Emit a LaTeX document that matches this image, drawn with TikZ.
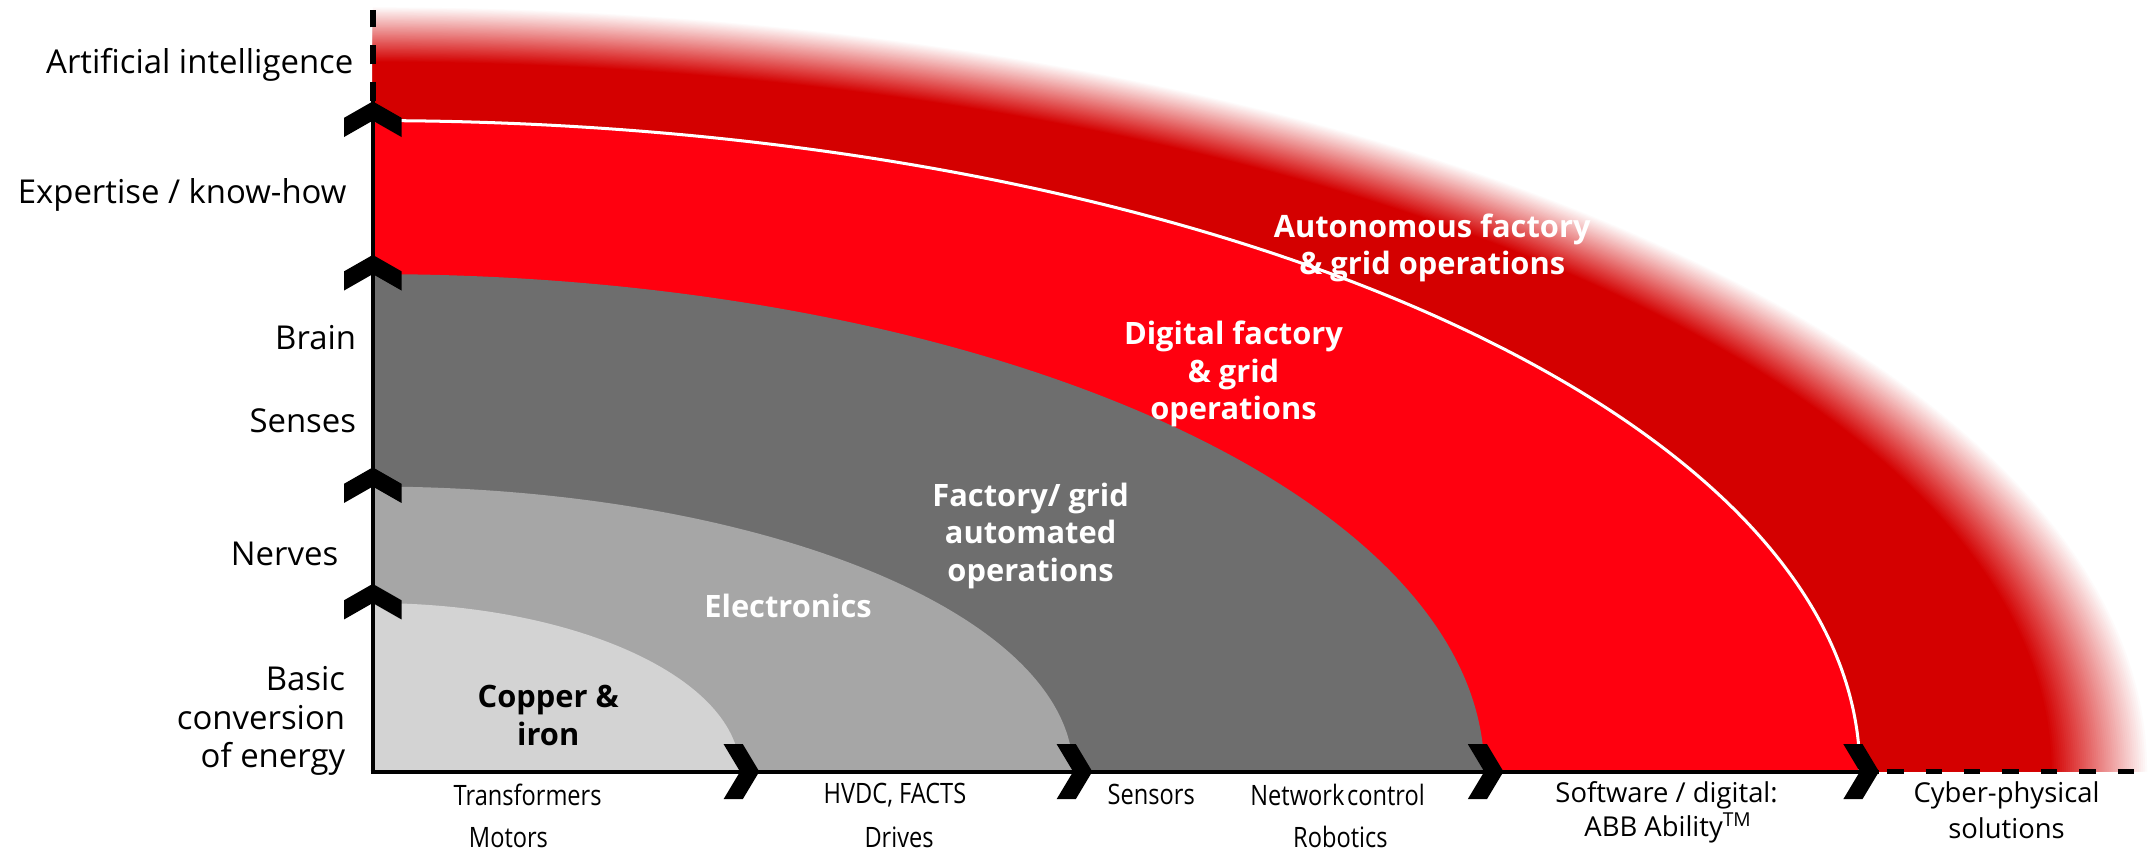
\documentclass[tikz,border=0pt]{standalone}
\usepackage{fontspec}
\setmainfont{Open Sans}
\newfontfamily\condfont[FakeStretch=0.84]{Open Sans}
\usetikzlibrary{calc}
\definecolor{lgray}{HTML}{D3D3D3}
\definecolor{mgray}{HTML}{A6A6A6}
\definecolor{dgray}{HTML}{6E6E6E}
\definecolor{bred}{HTML}{FF000F}
\definecolor{dred}{HTML}{D40000}
\begin{document}
\begin{tikzpicture}[x=1pt,y=1pt,
  ylab/.style={font=\fontsize{24}{28}\selectfont, inner sep=0pt, anchor=east, align=right},
  xlab/.style={font=\fontsize{20}{24}\selectfont, inner sep=0pt},
  xcond/.style={font=\condfont\fontsize{20.5}{24}\selectfont, inner sep=0pt},
  rlab/.style={font=\bfseries\fontsize{22.5}{27.5}\selectfont, inner sep=0pt, align=center, text=white},
  axisline/.style={line width=3pt, black},
  dashaxis/.style={line width=4pt, black, dash pattern=on 14pt off 13pt},
  sepline/.style={line width=2.2pt, white},
  ychev/.pic={\fill[black] (0,14) -- (21,2) -- (21,-12) -- (0,0) -- (-21,-12) -- (-21,2) -- cycle;},
  xchev/.pic={\fill[black] (14,0) -- (2,20) -- (-12,20) -- (0,0) -- (-12,-20) -- (2,-20) -- cycle;}
]
\useasboundingbox (0,0) rectangle (1568,621);
\coordinate (O) at (272,58);
% dark red region with soft outer edge
\foreach \k in {0,...,48}{
  \pgfmathsetmacro{\sx}{1.058-0.058*\k/48}
  \pgfmathsetmacro{\sy}{1.078-0.078*\k/48}
  \pgfmathsetmacro{\p}{100*\k/48}
  \fill[dred!\p!white] (O) -- ++(1225*\sx,0) arc[start angle=0,end angle=90,x radius=1225*\sx,y radius=518*\sy] -- cycle;
}
% nested regions
\fill[bred] (O) -- ++(1085,0) arc[start angle=0,end angle=90,x radius=1085,y radius=475] -- cycle;
\draw[sepline] ($(O)+(1085,0)$) arc[start angle=0,end angle=90,x radius=1085,y radius=475];
\fill[dgray] (O) -- ++(811,0) arc[start angle=0,end angle=90,x radius=811,y radius=363] -- cycle;
\fill[mgray] (O) -- ++(511,0) arc[start angle=0,end angle=90,x radius=511,y radius=208] -- cycle;
\fill[lgray] (O) -- ++(268,0) arc[start angle=0,end angle=90,x radius=268,y radius=123] -- cycle;
% axes
\coordinate (ytip) at (272,547);
\coordinate (ytop) at (272,614);
\coordinate (xtip) at (1371,58);
\coordinate (xdash) at (1377,58);
\coordinate (xend) at (1562,58);
\draw[axisline] (O) -- (ytip);
\draw[axisline] ([xshift=-1.5pt]O) -- (xtip);
\draw[dashaxis] (ytip) -- (ytop);
\draw[dashaxis, dash pattern=on 12pt off 16pt] (xdash) -- (xend);
% chevrons
\pic at (272,533) {ychev};
\pic at (272,421) {ychev};
\pic at (272,266) {ychev};
\pic at (272,181) {ychev};
\pic at (540,58) {xchev};
\pic at (783,58) {xchev};
\pic at (1083,58) {xchev};
\pic at (1357,58) {xchev};
% y labels
\node[ylab] (ai) at (258,574) {Artificial intelligence};
\node[ylab] (exp) at (253,479) {Expertise / know-how};
\node[ylab] (brain) at (260,375) {Brain};
\node[ylab] (senses) at (260,314) {Senses};
\node[ylab] (nerves) at (247,217) {Nerves};
\node[ylab] (basic) at (252,95) {Basic\\conversion\\of energy};
% x labels
\node[xcond] (transf) at (385,41) {Transformers};
\node[xcond] (motors) at (371,10) {Motors};
\node[xcond] (hvdc) at (653,41) {HVDC, FACTS};
\node[xcond] (drives) at (656,10) {Drives};
\node[xcond] (sensors) at (840,41) {Sensors};
\node[xcond] (netctl) at (976,41) {Network\hspace{2pt}control};
\node[xcond] (robot) at (978,10) {Robotics};
\node[xlab] (soft) at (1216,41) {Software / digital:};
\node[xlab] (ability) at (1217,17) {ABB Ability\textsuperscript{TM}};
\node[xlab] (cyber) at (1464,41) {Cyber-physical};
\node[xlab] (solut) at (1464,17) {solutions};
% region labels
\node[rlab, text=black] (copper) at (400,99) {Copper \&\\iron};
\node[rlab] (electr) at (575,179) {Electronics};
\node[rlab] (factory) at (752,230) {Factory/ grid\\automated\\operations};
\node[rlab] (digital) at (900,348) {Digital factory\\\& grid\\operations};
\node[rlab] (auton) at (1045,440) {Autonomous factory\\\& grid operations};
\end{tikzpicture}
\end{document}
